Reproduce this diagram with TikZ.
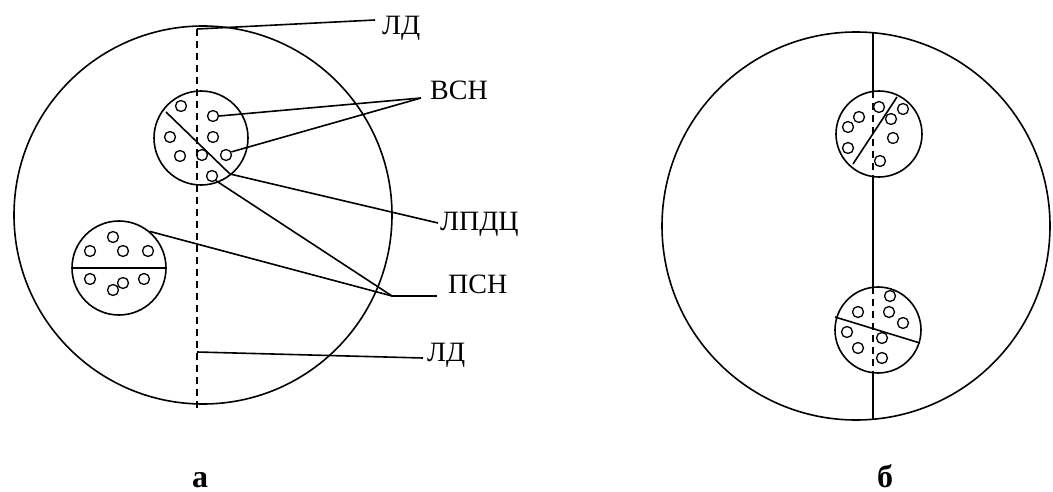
\documentclass[tikz,border=0pt]{standalone}
\usepackage{fontspec}
\setmainfont{Liberation Serif}
\begin{document}
\begin{tikzpicture}[x=1pt,y=-1pt,
  ln/.style={line width=1.6pt},
  dsh/.style={line width=1.6pt,dash pattern=on 7pt off 5pt},
  bigc/.style={circle,draw,line width=1.6pt,inner sep=0pt},
  dot/.style={circle,draw,line width=1.3pt,inner sep=0pt,minimum size=11pt},
  lbl/.style={anchor=base west,inner sep=0pt,font=\fontsize{28}{30}\selectfont},
  subcap/.style={anchor=base,inner sep=0pt,font=\fontsize{32}{34}\selectfont\bfseries}]
\useasboundingbox (0,0) rectangle (1053,492);

% ---------- figure a ----------
\node[bigc,minimum size=378pt] (A) at (203,215) {};
\node[bigc,minimum size=94pt] (A1) at (201,138) {};
\node[bigc,minimum size=94pt] (A2) at (119,268) {};

\coordinate (LDt) at (197,29);
\coordinate (LDb) at (197,408);
\draw[dsh] (LDt) -- (LDb);

% chord in A1 and diameter in A2
\coordinate (d1) at (166,112);
\coordinate (d2) at (230,174);
\draw[ln] (d1) -- (d2);
\draw[ln] (A2.west) -- (A2.east);

\foreach \x/\y [count=\i] in {181/106,213/116,170/137,213/137,180/156,202/155,226/155,212/176}
  \node[dot] (a\i) at (\x,\y) {};
\foreach \x/\y [count=\i] in {113/237,90/251,123/251,148/251,90/279,123/283,113/290,144/279}
  \node[dot] (b\i) at (\x,\y) {};

% labels
\node[lbl] (tLD) at (382,35) {ЛД};
\node[lbl] (tVSN) at (430,100) {ВСН};
\node[lbl] (tLPDC) at (440,230) {ЛПДЦ};
\node[lbl] (tPSN) at (448,293) {ПСН};
\node[lbl] (tLD2) at (427,361) {ЛД};

\coordinate (pLD) at (375,20);
\coordinate (pVSN) at (421,98);
\coordinate (pLPDC) at (438,223);
\coordinate (pPSN) at (392,296);
\coordinate (pPSNe) at (437,296);
\coordinate (qLD) at (197,352);
\coordinate (pLD2) at (423,358);

\draw[ln] (LDt) -- (pLD);
\draw[ln] (a2.east) -- (pVSN);
\draw[ln] (a7.30) -- (pVSN);
\draw[ln] (d2) -- (pLPDC);
\draw[ln] (a8.-50) -- (pPSN);
\draw[ln] (A2.50) -- (pPSN);
\draw[ln] (pPSN) -- (pPSNe);
\draw[ln] (qLD) -- (pLD2);

\node[subcap] (capa) at (200,487) {а};

% ---------- figure b ----------
\node[bigc,minimum size=388pt] (B) at (856,226) {};
\node[bigc,minimum size=86pt] (B1) at (879,134) {};
\node[bigc,minimum size=86pt] (B2) at (878,330) {};

\coordinate (v0) at (873,32);
\coordinate (v1) at (873,91.4);
\coordinate (v2) at (873,176.6);
\coordinate (v3) at (873,287.3);
\coordinate (v4) at (873,372.7);
\coordinate (v5) at (873,420);
\draw[ln] (v0) -- (v1);
\draw[dsh] (v1) -- (v2);
\draw[ln] (v2) -- (v3);
\draw[dsh] (v3) -- (v4);
\draw[ln] (v4) -- (v5);

\coordinate (e1) at (853,164);
\coordinate (e2) at (897,97);
\draw[ln] (e1) -- (e2);
\coordinate (f1) at (835,317);
\coordinate (f2) at (920,343);
\draw[ln] (f1) -- (f2);

\foreach \x/\y [count=\i] in {879/107,903/109,859/117,891/119,848/127,893/138,848/148,880/161}
  \node[dot] (c\i) at (\x,\y) {};
\foreach \x/\y [count=\i] in {890/296,858/312,889/312,903/323,847/332,882/338,858/348,882/358}
  \node[dot] (g\i) at (\x,\y) {};

\node[subcap] (capb) at (885,487) {б};
\end{tikzpicture}
\end{document}
